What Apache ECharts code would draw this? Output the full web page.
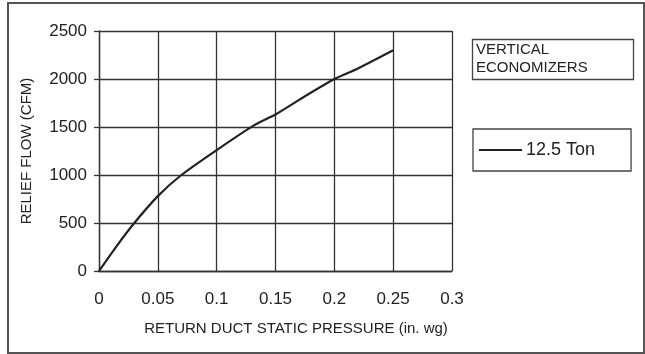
<!DOCTYPE html>
<html>
<head>
<meta charset="utf-8">
<script src="https://cdn.jsdelivr.net/npm/echarts@6/dist/echarts.min.js"></script>
<style>
  html, body { margin: 0; padding: 0; background: #fff; }
  #chart { width: 645px; height: 354px; }
</style>
</head>
<body>
<div id="chart"></div>
<script>
// static pressure (in. wg) vs relief flow (CFM)
const pressure = [0, 0.015, 0.03, 0.05, 0.07, 0.1, 0.132, 0.15, 0.175, 0.2, 0.22, 0.25];
const reliefFlow = [0, 260, 500, 780, 1000, 1260, 1520, 1630, 1820, 2000, 2110, 2300];
const seriesName = "12.5 Ton";
const boxTitle = ["VERTICAL", "ECONOMIZERS"];

const chart = echarts.init(document.getElementById("chart"));
const ink = "#222";
const gridInk = "#333";

chart.setOption({
  animation: false,
  textStyle: { fontFamily: "Liberation Sans, Arial, sans-serif", color: ink },
  grid: { left: 99, right: 193, top: 31, bottom: 83 },
  graphic: [
    {
      type: "rect",
      shape: { x: 8, y: 3, width: 636, height: 350 },
      style: { fill: "none", stroke: "#555", lineWidth: 2 },
      silent: true,
    },
    {
      type: "rect",
      shape: { x: 472.5, y: 39.5, width: 161, height: 40 },
      style: { fill: "#fff", stroke: "#444", lineWidth: 1.3 },
      silent: true,
    },
    {
      type: "text",
      left: 476,
      top: 41,
      style: {
        text: boxTitle.join("\n"),
        font: "15px Liberation Sans, Arial, sans-serif",
        lineHeight: 18,
        fill: ink,
      },
      silent: true,
    },
  ],
  legend: {
    left: 473,
    top: 129,
    orient: "vertical",
    padding: [12, 36, 12, 6],
    borderColor: "#444",
    borderWidth: 1.3,
    itemWidth: 43,
    itemHeight: 2,
    itemGap: 4,
    textStyle: { fontSize: 18, color: ink, padding: [2, 0, 0, -1] },
    data: [{ name: seriesName, icon: "rect", itemStyle: { color: ink } }],
  },
  xAxis: {
    type: "value",
    min: 0,
    max: 0.3,
    interval: 0.05,
    name: "RETURN DUCT STATIC PRESSURE (in. wg)",
    nameLocation: "middle",
    nameGap: 50,
    nameTextStyle: { fontSize: 15, color: ink, padding: [0, 0, 0, 41] },
    axisLine: { show: true, lineStyle: { color: gridInk, width: 1.3 } },
    axisTick: { show: false },
    axisLabel: { fontSize: 17, color: ink, margin: 20 },
    splitLine: { show: true, lineStyle: { color: gridInk, width: 1.3 } },
  },
  yAxis: {
    type: "value",
    min: 0,
    max: 2500,
    interval: 500,
    name: "RELIEF FLOW (CFM)",
    nameLocation: "middle",
    nameGap: 65,
    nameTextStyle: { fontSize: 15, color: ink },
    axisLine: { show: true, lineStyle: { color: gridInk, width: 1.3 } },
    axisTick: { show: true, inside: false, length: 5, lineStyle: { color: gridInk, width: 1.3 } },
    axisLabel: { fontSize: 17, color: ink, margin: 12, formatter: (v) => String(v) },
    splitLine: { show: true, lineStyle: { color: gridInk, width: 1.3 } },
  },
  series: [
    {
      name: seriesName,
      type: "line",
      symbol: "none",
      smooth: 0.2,
      color: ink,
      lineStyle: { color: ink, width: 2.2 },
      data: pressure.map((p, i) => [p, reliefFlow[i]]),
    },
  ],
});
</script>
</body>
</html>
